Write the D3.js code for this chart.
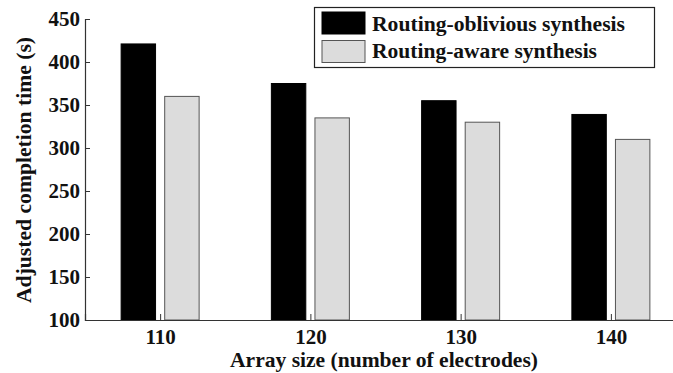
<!DOCTYPE html>
<html>
<head>
<meta charset="utf-8">
<script src="https://cdn.jsdelivr.net/npm/d3@7"></script>
<style>
body { margin: 0; background: #fff; }
svg text { font-family: "Liberation Serif", "DejaVu Serif", serif !important; font-weight: bold; }
</style>
</head>
<body>
<script>
var w = 673;
var h = 373;

var arraySizes = [110, 120, 130, 140];
var series = ["Routing-oblivious synthesis", "Routing-aware synthesis"];
var oblivious = [421, 375, 355, 339];
var aware = [360, 335, 330, 310];
var yTicks = [100, 150, 200, 250, 300, 350, 400, 450];
var colors = ["#000000", "#dcdcdc"];
var strokes = ["#000000", "#555555"];
var serif = "'Liberation Serif', 'DejaVu Serif', serif";

var svg = d3.select("body")
    .append("svg")
    .attr("width", w)
    .attr("height", h)
    .attr("font-family", serif);

var x = d3.scaleLinear().domain([105, 145]).range([85, 686]);
var y = d3.scaleLinear().domain([100, 450]).range([320, 19]);
// position of each series inside a group, in pixels from the group centre
var sub = d3.scaleBand().domain(series).range([-39, 39]).paddingInner(0.21);

var data = [];
arraySizes.forEach(function (s, i) {
    data.push({size: s, k: 0, v: oblivious[i]});
    data.push({size: s, k: 1, v: aware[i]});
});

svg.selectAll("rect.bar")
    .data(data)
    .enter()
    .append("rect")
    .attr("class", "bar")
    .attr("x", function (d) { return x(d.size) + sub(series[d.k]); })
    .attr("y", function (d) { return y(d.v); })
    .attr("width", sub.bandwidth())
    .attr("height", function (d) { return y(100) - y(d.v); })
    .attr("fill", function (d) { return colors[d.k]; })
    .attr("stroke", function (d) { return strokes[d.k]; })
    .attr("stroke-width", 1);

var xAxis = svg.append("g")
    .attr("transform", "translate(0," + y(100) + ")")
    .call(d3.axisBottom(x).tickValues(arraySizes).tickSize(-6).tickPadding(9).tickFormat(d3.format("d")))
    .attr("font-family", serif);
xAxis.select(".domain").attr("stroke", "#333").attr("stroke-width", 1.2);
xAxis.selectAll(".tick line").attr("stroke", "#333");
xAxis.selectAll("text").attr("font-size", "21px").attr("fill", "#111");

var yAxis = svg.append("g")
    .attr("transform", "translate(" + x(105) + ",0)")
    .call(d3.axisLeft(y).tickValues(yTicks).tickSize(-5).tickPadding(5).tickFormat(d3.format("d")))
    .attr("font-family", serif);
yAxis.select(".domain").attr("stroke", "#333").attr("stroke-width", 1.2);
yAxis.selectAll(".tick line").attr("stroke", "#333");
yAxis.selectAll("text").attr("font-size", "21px").attr("fill", "#111");

svg.append("text")
    .attr("x", 384)
    .attr("y", 367)
    .attr("text-anchor", "middle")
    .attr("font-size", "21px")
    .attr("fill", "#111")
    .attr("textLength", 308)
    .attr("lengthAdjust", "spacingAndGlyphs")
    .text("Array size (number of electrodes)");

svg.append("text")
    .attr("transform", "translate(31,170) rotate(-90)")
    .attr("text-anchor", "middle")
    .attr("font-size", "21px")
    .attr("fill", "#111")
    .attr("textLength", 266)
    .attr("lengthAdjust", "spacingAndGlyphs")
    .text("Adjusted completion time (s)");

// legend
var legendWidths = [253, 225];
var legend = svg.append("g");
legend.append("rect")
    .attr("x", 314.5).attr("y", 7.5)
    .attr("width", 340).attr("height", 60)
    .attr("fill", "#fff").attr("stroke", "#222").attr("stroke-width", 1.2);
series.forEach(function (s, i) {
    legend.append("rect")
        .attr("x", 322).attr("y", 12 + i * 28.5)
        .attr("width", 43).attr("height", 22)
        .attr("fill", colors[i]).attr("stroke", strokes[i]);
    legend.append("text")
        .attr("x", 372).attr("y", 31 + i * 27)
        .attr("font-size", "21px")
        .attr("fill", "#111")
        .attr("textLength", legendWidths[i])
        .attr("lengthAdjust", "spacingAndGlyphs")
        .text(s);
});
</script>
</body>
</html>
